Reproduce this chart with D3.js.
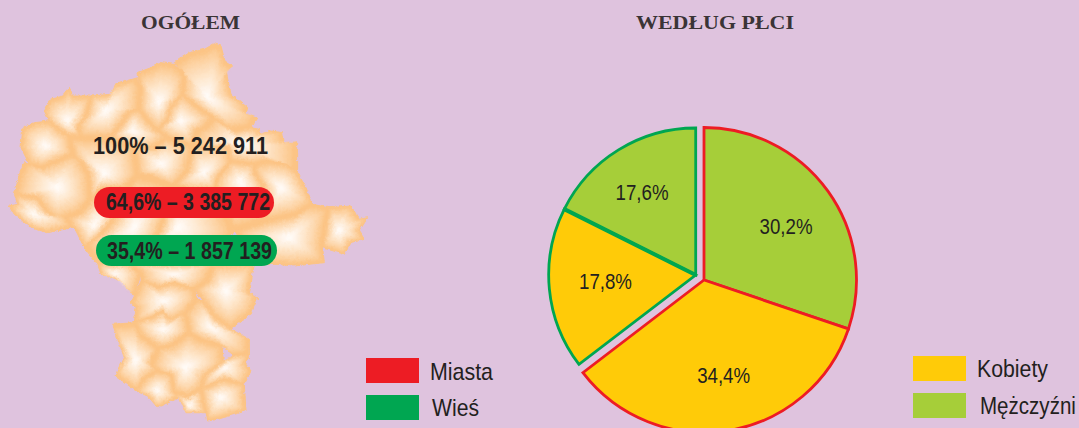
<!DOCTYPE html>
<html lang="pl">
<head>
<meta charset="utf-8">
<title>Ogółem i według płci</title>
<script src="https://cdn.jsdelivr.net/npm/d3@7"></script>
<style>
html,body{margin:0;padding:0;background:#dfc3de;overflow:hidden}
svg{display:block}
text{fill:#231f20}
.narrow{font-family:"Liberation Sans",sans-serif}
.title{font-family:"Liberation Serif",serif;font-weight:bold;font-size:18.5px;fill:#3a3436}
</style>
</head>
<body>
<svg id="chart" width="1079" height="428"></svg>
<script>
// ---- chart values ----
const totalLabel = "100% – 5 242 911";
const pillLabels = ["64,6% – 3 385 772", "35,4% – 1 857 139"];
const pieValues = [30.2, 34.4, 17.8, 17.6];
const pieLabels = ["30,2%", "34,4%", "17,8%", "17,6%"];
const pieGender = ["Mężczyźni", "Kobiety", "Kobiety", "Mężczyźni"];
const pieArea = ["Miasta", "Miasta", "Wieś", "Wieś"];
const areaLegend = ["Miasta", "Wieś"];
const genderLegend = ["Kobiety", "Mężczyźni"];
const titles = ["OGÓŁEM", "WEDŁUG PŁCI"];

// ---- map outline of the counties, in map units (c = inner point) ----
const mapRegions = [
 {c:[620,200],p:[[520,95],[565,65],[610,55],[640,38],[660,45],[672,90],[695,105],[675,120],[690,190],[740,230],[735,250],[770,262],[750,290],[700,300],[635,260],[600,235],[545,190],[550,125]]},
 {c:[475,215],p:[[410,125],[450,110],[480,95],[520,100],[550,125],[545,190],[510,230],[500,270],[470,300],[440,270],[415,235],[420,170]]},
 {c:[540,270],p:[[510,230],[545,190],[600,235],[635,260],[610,290],[585,300],[575,345],[500,320],[470,300],[500,270]]},
 {c:[315,240],p:[[270,195],[330,190],[345,160],[410,140],[420,170],[415,235],[390,240],[370,270],[330,320],[235,320],[230,290],[255,260]]},
 {c:[200,270],p:[[130,240],[150,205],[185,195],[205,172],[215,195],[270,195],[255,260],[230,290],[235,320],[205,315],[180,300],[145,270]]},
 {c:[135,345],p:[[65,295],[100,275],[145,270],[180,300],[205,315],[215,370],[180,385],[120,410],[85,400],[60,350]]},
 {c:[170,470],p:[[70,395],[85,400],[120,410],[180,385],[215,370],[235,375],[265,430],[270,510],[240,545],[200,560],[170,570],[140,545],[105,500],[40,490],[55,430]]},
 {c:[100,550],p:[[40,490],[105,500],[140,545],[170,570],[200,560],[215,590],[140,605],[90,590],[40,550],[25,525],[50,520]]},
 {c:[310,430],p:[[235,375],[215,370],[205,315],[235,320],[330,320],[400,350],[410,430],[380,470],[290,475],[270,510],[265,430]]},
 {c:[395,300],p:[[330,320],[370,270],[390,240],[415,235],[440,270],[470,300],[500,320],[460,350],[400,350]]},
 {c:[480,400],p:[[400,350],[460,350],[500,320],[575,345],[560,420],[520,465],[460,440],[410,430]]},
 {c:[610,425],p:[[575,345],[680,340],[690,390],[650,440],[640,480],[560,480],[520,465],[560,420]]},
 {c:[720,340],p:[[635,260],[700,300],[750,290],[775,295],[780,310],[810,300],[845,305],[850,340],[890,335],[890,425],[860,400],[800,390],[760,400],[720,395],[690,390],[680,340],[575,345],[585,300],[610,290]]},
 {c:[720,450],p:[[690,390],[720,395],[760,400],[760,420],[790,470],[800,570],[700,600],[640,480],[650,440]]},
 {c:[840,470],p:[[760,420],[760,400],[800,390],[860,400],[890,425],[915,470],[935,520],[890,550],[800,570],[790,470]]},
 {c:[865,620],p:[[800,570],[890,550],[935,520],[985,530],[975,580],[965,650],[970,695],[880,705],[830,700],[760,700],[700,600]]},
 {c:[1015,600],p:[[985,530],[1050,525],[1075,565],[1100,560],[1075,600],[1090,625],[1050,635],[1030,670],[965,650],[975,580]]},
 {c:[280,585],p:[[200,560],[240,545],[270,510],[290,475],[380,470],[340,560],[300,610],[250,650],[225,600],[215,590]]},
 {c:[400,590],p:[[380,470],[410,430],[460,440],[520,465],[490,560],[470,620],[390,700],[290,700],[250,650],[300,610],[340,560]]},
 {c:[530,590],p:[[520,465],[560,480],[640,480],[700,600],[640,700],[410,700],[390,700],[470,620],[490,560]]},
 {c:[340,730],p:[[290,700],[390,700],[420,730],[400,795],[360,750],[300,730]]},
 {c:[520,730],p:[[390,700],[640,700],[620,750],[580,775],[520,755],[470,770],[420,750],[420,730]]},
 {c:[675,780],p:[[640,700],[760,700],[745,790],[770,800],[750,850],[690,895],[640,860],[620,830],[580,775],[620,750]]},
 {c:[490,810],p:[[420,750],[470,770],[520,755],[580,775],[590,800],[555,845],[510,870],[485,840],[450,860],[400,875],[405,830],[390,815],[400,795]]},
 {c:[490,895],p:[[450,860],[485,840],[510,870],[555,845],[565,905],[510,945],[470,950],[415,910],[400,875]]},
 {c:[630,890],p:[[590,800],[620,830],[640,860],[690,895],[745,925],[745,970],[700,975],[665,945],[600,925],[565,905],[555,845]]},
 {c:[405,990],p:[[335,880],[400,875],[415,910],[470,950],[450,1000],[470,1020],[435,1040],[405,1080],[345,1035],[370,980],[345,910]]},
 {c:[555,1010],p:[[470,950],[510,945],[565,905],[600,925],[665,945],[670,990],[610,1040],[600,1075],[560,1100],[520,1085],[510,1030],[470,1020],[450,1000]]},
 {c:[670,1010],p:[[670,990],[700,975],[745,970],[735,1000],[750,1020],[730,1060],[670,1045],[600,1075],[610,1040]]},
 {c:[660,1100],p:[[600,1075],[670,1045],[730,1060],[735,1140],[700,1150],[650,1165],[620,1170],[615,1145],[610,1130]]},
 {c:[470,1080],p:[[405,1080],[435,1040],[470,1020],[510,1030],[520,1085],[535,1100],[470,1130],[440,1095]]},
 {c:[565,1125],p:[[520,1085],[560,1100],[600,1075],[610,1130],[615,1145],[555,1145],[535,1100]]}
];

const W = 1079, H = 428;
const svg = d3.select("#chart").attr("viewBox", [0,0,W,H]);
svg.append("rect").attr("width",W).attr("height",H).attr("fill","#dfc3de");

// ---- map ----
const mapX = d3.scaleLinear().domain([0,1140]).range([0,380]);
const mapY = d3.scaleLinear().domain([0,1194]).range([30,428]);
const defs = svg.append("defs");
const filt = defs.append("filter").attr("id","rough").attr("x","-5%").attr("y","-5%").attr("width","110%").attr("height","110%");
filt.append("feTurbulence").attr("type","turbulence").attr("baseFrequency",0.22).attr("numOctaves",2).attr("seed",4).attr("result","n");
filt.append("feDisplacementMap").attr("in","SourceGraphic").attr("in2","n").attr("scale",3).attr("xChannelSelector","R").attr("yChannelSelector","G");
const soft = defs.append("filter").attr("id","soft");
soft.append("feGaussianBlur").attr("stdDeviation",0.8);

const line = d3.line().x(d=>mapX(d[0])).y(d=>mapY(d[1])).curve(d3.curveLinearClosed);
const mapG = svg.append("g").attr("filter","url(#rough)");
const edge = "#fcc485", core = "#ffffff";
const levels = d3.range(0,14);
const shade = d3.scaleLinear().domain([0,13]).range([0,1]);
const regionG = mapG.selectAll("g.region").data(mapRegions).join("g").attr("class","region");
regionG.append("path").attr("d",r=>line(r.p)).attr("fill",edge).attr("stroke",edge).attr("stroke-width",1);
const inner = regionG.append("g").attr("filter","url(#soft)");
inner.selectAll("path").data(r=>levels.slice(1).map(k=>({r,k}))).join("path")
  .attr("d",({r,k})=>{
     const s = 1 - shade(k)*0.96 - 0.03;
     return line(r.p.map(q=>[r.c[0]+(q[0]-r.c[0])*s, r.c[1]+(q[1]-r.c[1])*s]));
  })
  .attr("fill",({k})=>d3.interpolateRgb(edge,core)(Math.pow(shade(k),0.85)));

// ---- map labels ----
const mapText = (sel,x,y,w,t)=>sel.append("text").attr("class","narrow").attr("x",x).attr("y",y)
  .attr("textLength",w).attr("lengthAdjust","spacingAndGlyphs")
  .attr("font-size",24).attr("font-weight","bold").text(t);
mapText(svg,93,154,175,totalLabel);
const pillG = svg.append("g");
const pillColor = d3.scaleOrdinal().domain(areaLegend).range(["#ed1c24","#00a651"]);
const pillGeom = [{x:94,y:187,w:180,tx:106,ty:210,tw:164},{x:96,y:235,w:181,tx:107,ty:259,tw:165}];
pillLabels.forEach((t,i)=>{
  const g = pillGeom[i];
  pillG.append("rect").attr("x",g.x).attr("y",g.y).attr("width",g.w).attr("height",31).attr("rx",15.5)
    .attr("fill",pillColor(areaLegend[i]));
  mapText(pillG,g.tx,g.ty,g.tw,t);
});

// ---- titles ----
svg.append("text").attr("class","title").attr("x",141).attr("y",29).attr("textLength",99).attr("lengthAdjust","spacingAndGlyphs").text(titles[0]);
svg.append("text").attr("class","title").attr("x",636).attr("y",29).attr("textLength",158).attr("lengthAdjust","spacingAndGlyphs").text(titles[1]);

// ---- pie ----
const genderColor = d3.scaleOrdinal().domain(genderLegend).range(["#ffcb08","#a6ce39"]);
const labelNudge = [[4,3],[4,1],[2,-2],[-5,-3]];
const pieData = d3.pie().sort(null).value(d=>d)(pieValues)
  .map((d,i)=>({...d, area:pieArea[i], gender:pieGender[i], label:pieLabels[i], nudge:labelNudge[i]}));
const groupGeom = {Miasta:{cx:704,cy:280,r:152.5}, "Wieś":{cx:695.7,cy:275,r:147}};
const order = ["Wieś","Miasta"];
order.forEach(a=>{
  const g = groupGeom[a];
  const arc = d3.arc().innerRadius(0).outerRadius(g.r);
  const lab = d3.arc().innerRadius(g.r*0.63).outerRadius(g.r*0.63);
  const grp = svg.append("g").attr("transform",`translate(${g.cx},${g.cy})`);
  const rows = pieData.filter(d=>d.area===a);
  grp.selectAll("path").data(rows).join("path")
    .attr("d",arc)
    .attr("fill",d=>genderColor(d.gender))
    .attr("stroke",pillColor(a))
    .attr("stroke-width",2.8)
    .attr("stroke-linejoin","miter");
  if(a==="Wieś"){
    // heavier divider between the two rural slices
    const ang = rows[1].startAngle;
    grp.append("path").attr("d",d3.lineRadial()([[0,0],[ang,g.r]]))
      .attr("stroke",pillColor(a)).attr("stroke-width",4).attr("fill","none");
  }
  grp.selectAll("text").data(rows).join("text")
    .attr("class","narrow")
    .attr("transform",d=>{const c=lab.centroid(d);return `translate(${c[0]+d.nudge[0]},${c[1]+7+d.nudge[1]})`;})
    .attr("text-anchor","middle").attr("font-size",22)
    .attr("textLength",53).attr("lengthAdjust","spacingAndGlyphs").text(d=>d.label);
});

// ---- legends (labels condensed by a horizontal scale, so their boxes stay inside the page) ----
const legend = (names,color,sx,sw,sy,tx,ty,tw)=>{
  names.forEach((n,i)=>{
    svg.append("rect").attr("x",sx).attr("y",sy[i]).attr("width",sw).attr("height",25).attr("fill",color(n));
    const t = svg.append("text").attr("class","narrow").attr("font-size",24).text(n);
    const k = tw[i] / t.node().getComputedTextLength();
    t.attr("transform",`translate(${tx[i]},${ty[i]}) scale(${k},1)`);
  });
};
legend(areaLegend,pillColor,366,53,[358,395],[430,432],[380,416],[63,47]);
legend(genderLegend,genderColor,913,53,[356,393],[977,980],[377,414],[71,96]);
</script>
</body>
</html>
